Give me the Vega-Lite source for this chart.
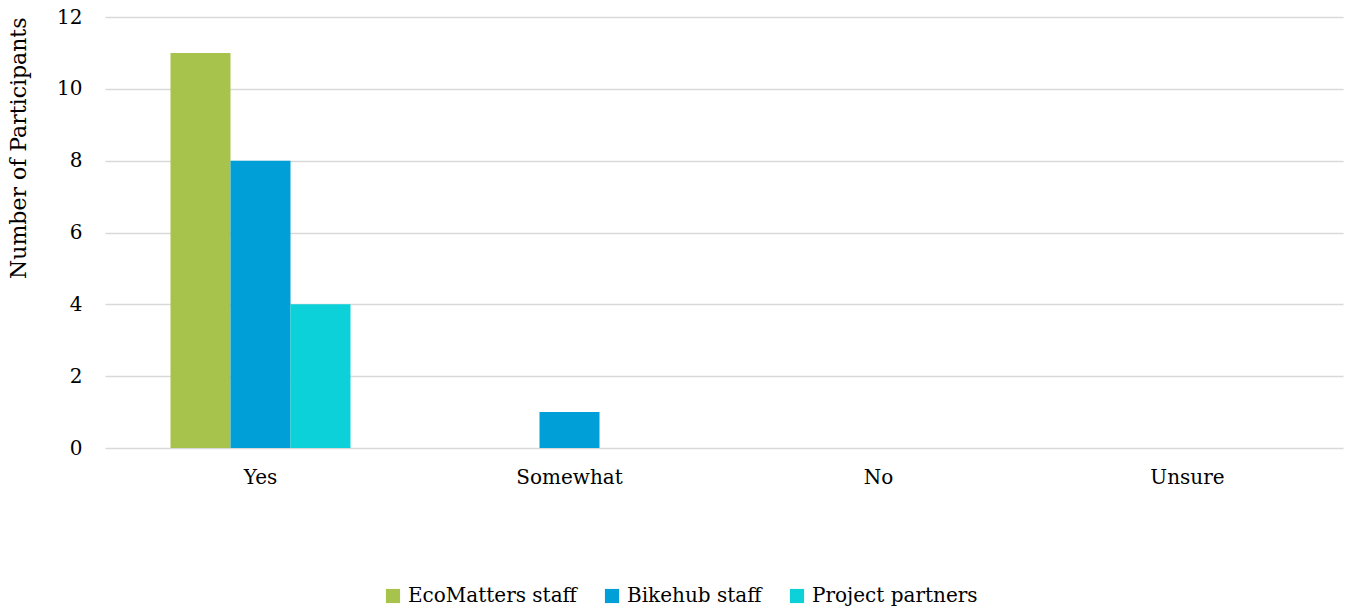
{
  "$schema": "https://vega.github.io/schema/vega-lite/v6.json",
  "width": 1238,
  "height": 431,
  "autosize": {"type": "none"},
  "padding": {"left": 105, "top": 17, "right": 6, "bottom": 166},
  "background": "white",
  "config": {
    "font": "DejaVu Serif",
    "view": {"stroke": null},
    "axis": {"labelFont": "DejaVu Serif", "titleFont": "DejaVu Serif", "labelColor": "#000000", "titleColor": "#000000"},
    "legend": {"labelFont": "DejaVu Serif"}
  },
  "data": {
    "values": [
      {"answer": "Yes", "group": "EcoMatters staff", "count": 11},
      {"answer": "Yes", "group": "Bikehub staff", "count": 8},
      {"answer": "Yes", "group": "Project partners", "count": 4},
      {"answer": "Somewhat", "group": "EcoMatters staff", "count": 0},
      {"answer": "Somewhat", "group": "Bikehub staff", "count": 1},
      {"answer": "Somewhat", "group": "Project partners", "count": 0},
      {"answer": "No", "group": "EcoMatters staff", "count": 0},
      {"answer": "No", "group": "Bikehub staff", "count": 0},
      {"answer": "No", "group": "Project partners", "count": 0},
      {"answer": "Unsure", "group": "EcoMatters staff", "count": 0},
      {"answer": "Unsure", "group": "Bikehub staff", "count": 0},
      {"answer": "Unsure", "group": "Project partners", "count": 0}
    ]
  },
  "mark": {"type": "bar"},
  "encoding": {
    "x": {
      "field": "answer",
      "type": "nominal",
      "sort": ["Yes", "Somewhat", "No", "Unsure"],
      "scale": {"paddingInner": 0.4175, "paddingOuter": 0.212},
      "axis": {"title": null, "labelAngle": 0, "labelFontSize": 20, "labelPadding": 19, "ticks": false, "domain": false, "grid": false}
    },
    "xOffset": {
      "field": "group",
      "type": "nominal",
      "sort": ["EcoMatters staff", "Bikehub staff", "Project partners"],
      "scale": {"paddingInner": 0, "paddingOuter": 0}
    },
    "y": {
      "field": "count",
      "type": "quantitative",
      "scale": {"domain": [0, 12]},
      "axis": {
        "title": "Number of Participants",
        "titleFontSize": 22,
        "titleFontWeight": "normal",
        "titleAnchor": "end",
        "titlePadding": 26,
        "values": [0, 2, 4, 6, 8, 10, 12],
        "labelFontSize": 20,
        "labelPadding": 23,
        "ticks": false,
        "domain": false,
        "gridColor": "#D9D9D9",
        "gridWidth": 1.5
      }
    },
    "color": {
      "field": "group",
      "type": "nominal",
      "scale": {
        "domain": ["EcoMatters staff", "Bikehub staff", "Project partners"],
        "range": ["#A8C34B", "#009FD8", "#0DD1D9"]
      },
      "legend": {
        "title": null,
        "orient": "none",
        "legendX": 278,
        "legendY": 569,
        "direction": "horizontal",
        "symbolType": "square",
        "symbolSize": 200,
        "symbolStrokeWidth": 0,
        "labelFontSize": 20,
        "labelLimit": 400,
        "labelColor": "#000000",
        "columnPadding": 25,
        "labelOffset": 5
      }
    }
  }
}
